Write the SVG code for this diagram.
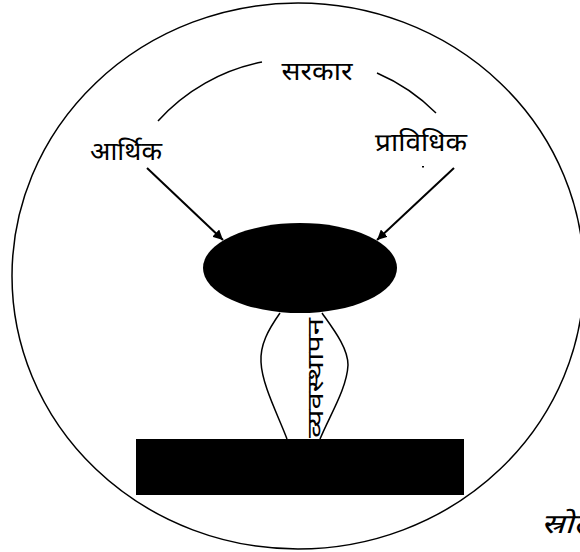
<svg xmlns="http://www.w3.org/2000/svg" width="580" height="552" viewBox="0 0 580 552">
<style>
.ln{fill:none;stroke:#000;stroke-width:1.5}
.t{font-family:"Noto Sans Devanagari","Noto Sans","Lohit Devanagari","FreeSans",sans-serif;font-size:25px;fill:#000;text-anchor:middle}
</style>
<defs>
<marker id="ah" viewBox="0 0 10 10" refX="10" refY="5" markerWidth="10" markerHeight="10" markerUnits="userSpaceOnUse" orient="auto">
<path d="M0,0 L10,5 L0,10 z" fill="#000"/>
</marker>
</defs>
<rect width="580" height="552" fill="#fff"/>
<g id="boundary"><ellipse cx="298" cy="276" rx="286" ry="273" class="ln"/></g>
<g id="connectors">
<path class="ln" d="M158,121 A190,190 0 0 1 262,62"/>
<path class="ln" d="M377,73 A190,190 0 0 1 436,113"/>
<line class="ln" x1="147" y1="168" x2="223" y2="240" marker-end="url(#ah)" style="stroke-width:2"/>
<line class="ln" x1="454" y1="168" x2="377" y2="240" marker-end="url(#ah)" style="stroke-width:2"/>
<path class="ln" d="M280,313 C268,330 260,345 261,362 C262,385 278,415 287,439"/>
<path class="ln" d="M322,313 C334,330 348,348 348,365 C347,388 330,415 320,439"/>
</g>
<g id="sarkar"><text class="t" x="317" y="80" textLength="71" lengthAdjust="spacingAndGlyphs">सरकार</text></g>
<g id="arthik"><text class="t" x="126" y="160" textLength="72" lengthAdjust="spacingAndGlyphs">आर्थिक</text></g>
<g id="prabidhik"><text class="t" x="421" y="151" textLength="92" lengthAdjust="spacingAndGlyphs">प्राविधिक</text><rect x="422" y="166" width="2" height="1.5" fill="#000"/></g>
<g id="center"><ellipse cx="300" cy="268" rx="97" ry="45" fill="#000"/></g>
<g id="vyavasthapan"><text class="t" style="font-size:23px" transform="translate(323,378) rotate(-90)" textLength="120" lengthAdjust="spacingAndGlyphs">व्यवस्थापन</text></g>
<g id="base"><rect x="136" y="439" width="328" height="56" fill="#000"/></g>
<g id="source"><text x="541" y="533" style="font-family:'Noto Sans Devanagari','Noto Sans',sans-serif;font-size:27px;font-style:italic" textLength="52" lengthAdjust="spacingAndGlyphs">स्रोत</text></g>
</svg>
